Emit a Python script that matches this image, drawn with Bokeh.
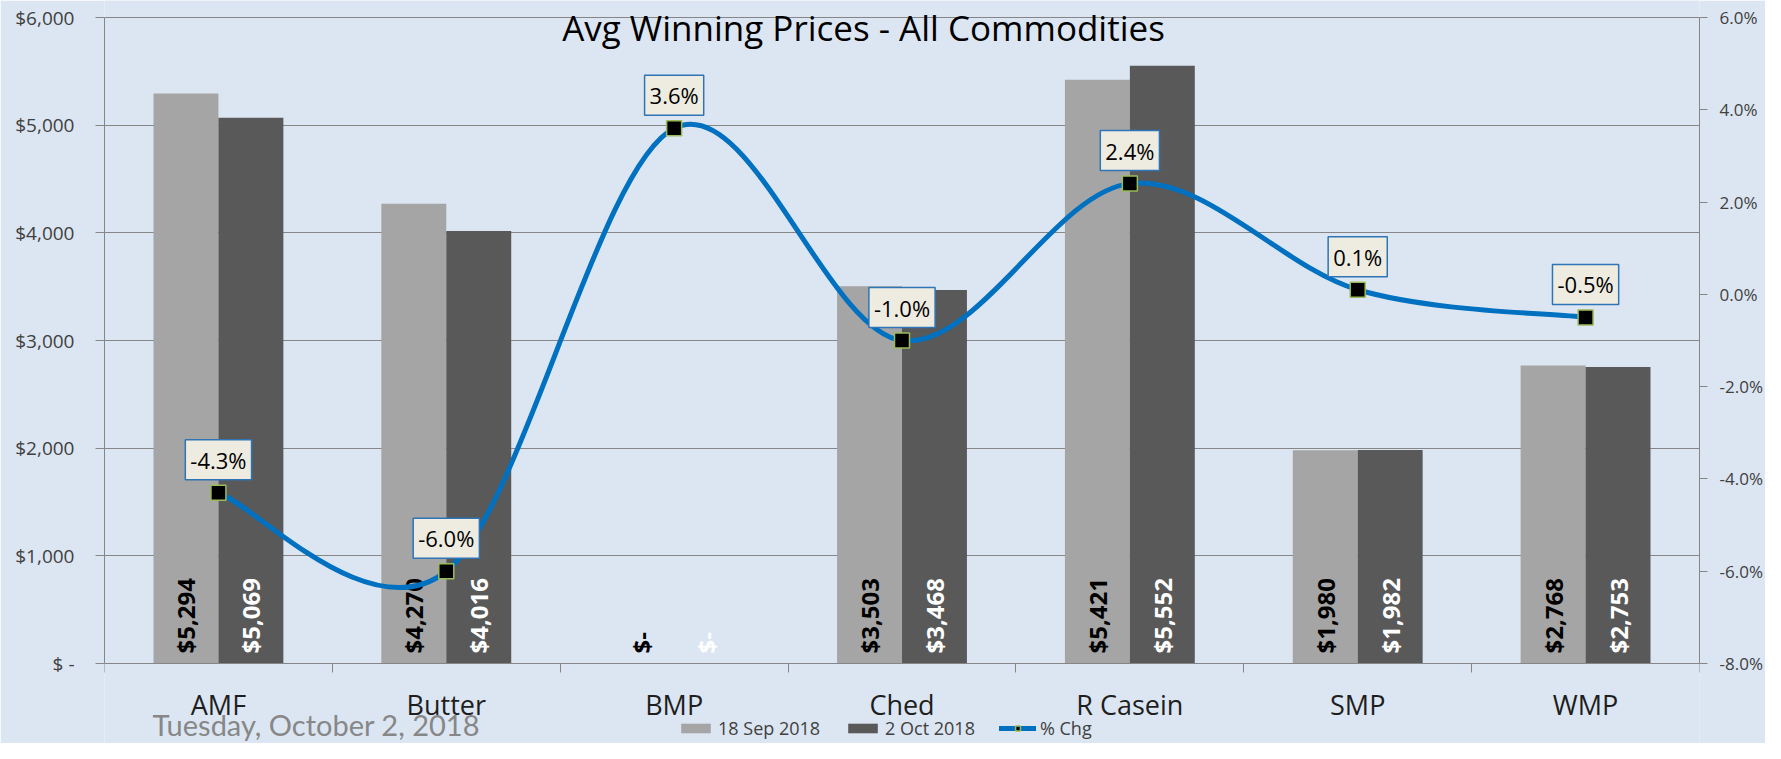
import numpy as np
from bokeh.plotting import figure
from bokeh.models import (Range1d, LinearAxis, FixedTicker, ColumnDataSource,
                          Label, Legend, LegendItem)
from bokeh.core.properties import value
from bokeh.transform import dodge
from bokeh.embed import file_html
from bokeh.resources import INLINE

# ---------------- data ----------------
categories = ["AMF", "Butter", "BMP", "Ched", "R Casein", "SMP", "WMP"]
prices_sep18 = [5294, 4270, 0, 3503, 5421, 1980, 2768]
prices_oct2 = [5069, 4016, 0, 3468, 5552, 1982, 2753]
pct_chg = [-4.3, -6.0, 3.6, -1.0, 2.4, 0.1, -0.5]
series_names = ["18 Sep 2018", "2 Oct 2018", "% Chg"]
title_text = "Avg Winning Prices - All Commodities"
date_text = "Tuesday, October 2, 2018"
price_ticks = [0, 1000, 2000, 3000, 4000, 5000, 6000]
pct_ticks = [-8, -6, -4, -2, 0, 2, 4, 6]

# ---------------- layout / styles ----------------
W, H = 1765, 743
FRAME_L, FRAME_R = 104, 1699          # plot-area pixel edges
AREA_TOP, AREA_BOTTOM = 17, 663       # top / bottom of the value area
BG = "#DCE6F2"
AX = "#868686"
LIGHT = "#A5A5A5"
DARK = "#595959"
BLUE = "#0070C0"
FONT = "Open Sans"


def money(v):
    return "$-" if v == 0 else "${:,}".format(v)


def money_axis(v):
    return "$ -" if v == 0 else "${:,}".format(v)


def extend(lo, hi):
    # extend a value range so that [lo, hi] occupies AREA_TOP..AREA_BOTTOM of the canvas
    per_px = (hi - lo) / (AREA_BOTTOM - AREA_TOP)
    return lo - (H - AREA_BOTTOM) * per_px, hi + AREA_TOP * per_px


n = len(categories)
centers = [i + 0.5 for i in range(n)]
BW = 0.285
p_lo, p_hi = extend(price_ticks[0], price_ticks[-1])
c_lo, c_hi = extend(pct_ticks[0], pct_ticks[-1])
px_per_price = (AREA_BOTTOM - AREA_TOP) / (price_ticks[-1] - price_ticks[0])

src = ColumnDataSource(dict(
    x=centers,
    sep=prices_sep18,
    oct=prices_oct2,
    sep_lbl=[money(v) for v in prices_sep18],
    oct_lbl=[money(v) for v in prices_oct2],
    zero=[0] * n,
    pct=pct_chg,
))

p = figure(width=W, height=H,
           x_range=Range1d(0, n), y_range=Range1d(p_lo, p_hi),
           output_backend="svg", toolbar_location=None,
           min_border_left=FRAME_L, min_border_right=W - FRAME_R,
           min_border_top=0, min_border_bottom=0,
           background_fill_color=BG, border_fill_color=BG,
           outline_line_color=None)
p.extra_y_ranges = {"pct": Range1d(c_lo, c_hi)}

# grid
p.xgrid.visible = False
p.ygrid.ticker = FixedTicker(ticks=price_ticks)
p.ygrid.grid_line_color = AX
p.ygrid.grid_line_width = 1

# left axis
ya = p.yaxis[0]
ya.ticker = FixedTicker(ticks=price_ticks)
ya.bounds = (price_ticks[0], price_ticks[-1])
ya.major_label_overrides = {v: money_axis(v) for v in price_ticks}
ya.axis_line_color = AX
ya.major_tick_line_color = AX
ya.major_tick_out = 9
ya.major_tick_in = 0
ya.minor_tick_line_color = None
ya.major_label_text_font = FONT
ya.major_label_text_font_size = "19px"
ya.major_label_text_color = "#404040"
ya.major_label_standoff = 21

# right axis
ra = LinearAxis(y_range_name="pct", ticker=FixedTicker(ticks=pct_ticks),
                bounds=(pct_ticks[0], pct_ticks[-1]))
ra.major_label_overrides = {v: "{:.1f}%".format(v) for v in pct_ticks}
ra.axis_line_color = AX
ra.major_tick_line_color = AX
ra.major_tick_out = 8
ra.major_tick_in = 0
ra.minor_tick_line_color = None
ra.major_label_text_font = FONT
ra.major_label_text_font_size = "17px"
ra.major_label_text_color = "#404040"
ra.major_label_standoff = 12
p.add_layout(ra, "right")

# bottom (category) axis, drawn at value 0
xa = p.xaxis[0]
xa.fixed_location = 0
xa.ticker = FixedTicker(ticks=centers, minor_ticks=list(range(n + 1)))
xa.major_label_overrides = {c: name for c, name in zip(centers, categories)}
xa.axis_line_color = AX
xa.major_tick_line_color = None
xa.major_tick_out = 0
xa.major_tick_in = 0
xa.minor_tick_line_color = AX
xa.minor_tick_out = 9
xa.minor_tick_in = 0
xa.major_label_text_font = FONT
xa.major_label_text_font_size = "27px"
xa.major_label_text_color = "#1E1E1E"
xa.major_label_standoff = 13

# bars
b1 = p.vbar(x=dodge("x", -BW / 2), top="sep", width=BW, bottom=0,
            fill_color=LIGHT, line_color=None, source=src)
b2 = p.vbar(x=dodge("x", BW / 2), top="oct", width=BW, bottom=0,
            fill_color=DARK, line_color=None, source=src)

# bar labels (rotated)
for col, colr, dx in (("sep_lbl", "black", -BW / 2), ("oct_lbl", "white", BW / 2)):
    p.text(x=dodge("x", dx), y="zero", text=col, angle=np.pi / 2,
           text_align="left", text_baseline="middle", y_offset=-10,
           text_font=value(FONT), text_font_style="bold", text_font_size="24px",
           text_color=colr, source=src)

# smoothed % change line (cubic bezier segments through the data points)
xs = np.array(centers, dtype=float)
ys = np.array(pct_chg, dtype=float)
seg = dict(x0=[], y0=[], x1=[], y1=[], cx0=[], cy0=[], cx1=[], cy1=[])
for k in range(n - 1):
    km1 = max(k - 1, 0)
    kp2 = min(k + 2, n - 1)
    seg["x0"].append(xs[k]); seg["y0"].append(ys[k])
    seg["x1"].append(xs[k + 1]); seg["y1"].append(ys[k + 1])
    seg["cx0"].append(xs[k] + (xs[k + 1] - xs[km1]) / 6)
    seg["cy0"].append(ys[k] + (ys[k + 1] - ys[km1]) / 6)
    seg["cx1"].append(xs[k + 1] - (xs[kp2] - xs[k]) / 6)
    seg["cy1"].append(ys[k + 1] - (ys[kp2] - ys[k]) / 6)
p.bezier(x0="x0", y0="y0", x1="x1", y1="y1", cx0="cx0", cy0="cy0",
         cx1="cx1", cy1="cy1", source=ColumnDataSource(seg),
         line_color=BLUE, line_width=5, line_cap="round", y_range_name="pct")

# legend-only line (no visible data)
legend_line = p.line(x=[np.nan, np.nan], y=[np.nan, np.nan], line_color=BLUE,
                     line_width=5, line_cap="round", y_range_name="pct")
markers = p.scatter(x="x", y="pct", marker="square", size=15,
                    fill_color="black", line_color="#9BBB59", line_width=1.5,
                    y_range_name="pct", source=src)

# % labels
for xv, yv in zip(centers, pct_chg):
    p.add_layout(Label(x=xv, y=yv, y_range_name="pct",
                       text="{:.1f}%".format(yv),
                       text_align="center", text_baseline="middle",
                       y_offset=33, text_font=FONT, text_font_size="22px",
                       text_color="black",
                       background_fill_color="#EEECE1",
                       border_line_color="#2E75B6", border_line_width=1.5,
                       padding=5))

# title & date
p.add_layout(Label(x=(863 - FRAME_L) / (FRAME_R - FRAME_L) * n,
                   y=price_ticks[-1] - (27 - AREA_TOP) / px_per_price,
                   text=title_text, text_align="center",
                   text_baseline="middle", text_font=FONT,
                   text_font_size="35px", text_color="black"))
p.add_layout(Label(x=(152 - FRAME_L) / (FRAME_R - FRAME_L) * n,
                   y=-(724 - AREA_BOTTOM) / px_per_price,
                   text=date_text, text_align="left",
                   text_baseline="middle", text_font="Lato",
                   text_font_size="29px", text_color="#878787"))

# legend
legend = Legend(items=[
    LegendItem(label=series_names[0], renderers=[b1]),
    LegendItem(label=series_names[1], renderers=[b2]),
    LegendItem(label=series_names[2], renderers=[legend_line, markers]),
], orientation="horizontal", location=(677 - FRAME_L, 3),
    glyph_width=37, glyph_height=12, label_standoff=4, spacing=24,
    padding=0, margin=0, background_fill_alpha=0, border_line_color=None,
    label_text_font=FONT, label_text_font_size="18px",
    label_text_color="#404040")
p.add_layout(legend, "center")

open("out.html", "w").write(file_html(p, INLINE))
